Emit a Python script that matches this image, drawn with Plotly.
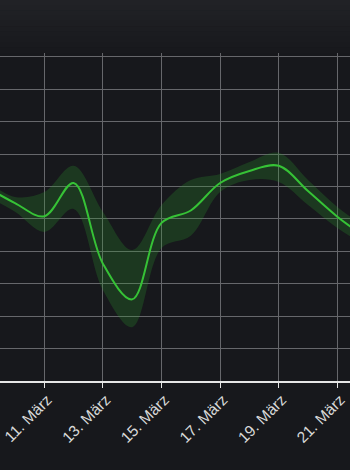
import plotly.graph_objects as go
import pandas as pd

# ---- data ----
days = [9, 10, 11, 12, 13, 14, 15, 16, 17, 18, 19, 20, 21, 22]
mean_vals = [5.99, 5.49, 5.08, 6.11, 3.62, 2.52, 4.88, 5.26, 6.11, 6.48, 6.64, 5.86, 5.07, 4.41]
upper_vals = [6.20, 5.68, 5.83, 6.64, 5.22, 4.04, 5.43, 6.20, 6.39, 6.76, 7.04, 6.20, 5.37, 4.72]
lower_vals = [5.71, 5.22, 4.60, 5.31, 2.81, 1.66, 4.10, 4.48, 5.83, 6.20, 6.14, 5.43, 4.72, 4.17]
tick_days = [11, 13, 15, 17, 19, 21]
tick_labels = ["11. März", "13. März", "15. März", "17. März", "19. März", "21. März"]

dates = [pd.Timestamp(2024, 3, d) for d in days]
tick_dates = [pd.Timestamp(2024, 3, d) for d in tick_days]

x_start = pd.Timestamp(2024, 3, 9) + pd.Timedelta(days=0.488)
x_end = pd.Timestamp(2024, 3, 9) + pd.Timedelta(days=12.433)

fig = go.Figure()
fig.add_trace(go.Scatter(x=dates, y=upper_vals, mode="lines",
                         line=dict(width=0, shape="spline", color="rgba(0,0,0,0)"),
                         hoverinfo="skip", showlegend=False))
fig.add_trace(go.Scatter(x=dates, y=lower_vals, mode="lines",
                         line=dict(width=0, shape="spline", color="rgba(0,0,0,0)"),
                         fill="tonexty", fillcolor="rgba(46,160,46,0.24)",
                         hoverinfo="skip", showlegend=False))
fig.add_trace(go.Scatter(x=dates, y=mean_vals, mode="lines",
                         line=dict(width=2, shape="spline", color="#36c236"),
                         showlegend=False))

# soft vertical fade in the top margin (background styling)
bg_top = ["#212226", "#202125", "#1f2024", "#1e1f23", "#1d1e22", "#1c1d21",
          "#1b1c20", "#1a1b1f", "#191a1e", "#18191d"]
n = len(bg_top)
top_h = 53 / 328.0
for i, c in enumerate(bg_top):
    fig.add_shape(type="rect", xref="paper", yref="paper", x0=0, x1=1,
                  y0=1 + top_h * (n - i - 1) / n, y1=1 + top_h * (n - i) / n + 0.001,
                  fillcolor=c, line=dict(width=0), layer="below")

fig.update_layout(
    width=350, height=470,
    margin=dict(l=0, r=0, t=53, b=89, autoexpand=False),
    paper_bgcolor="#17181c",
    plot_bgcolor="#17181c",
    font=dict(family="Liberation Sans, Arial, sans-serif", size=15.5, color="#d8d8d8"),
    xaxis=dict(
        range=[x_start, x_end],
        tickvals=tick_dates, ticktext=tick_labels,
        tickangle=-45,
        ticklabeloverflow="allow",
        ticklabelshift=3,
        ticklabelstandoff=-3,
        automargin=False,
        showgrid=True, gridcolor="#66676b", gridwidth=1,
        showline=True, linecolor="#e6e6e6", linewidth=1.5,
        ticks="outside", ticklen=5, tickcolor="#e6e6e6", tickwidth=1,
        zeroline=False,
    ),
    yaxis=dict(
        range=[0, 10.12], dtick=1,
        showticklabels=False,
        automargin=False,
        showgrid=True, gridcolor="#66676b", gridwidth=1,
        zeroline=False, showline=False,
    ),
)

fig.write_html("out.html")
